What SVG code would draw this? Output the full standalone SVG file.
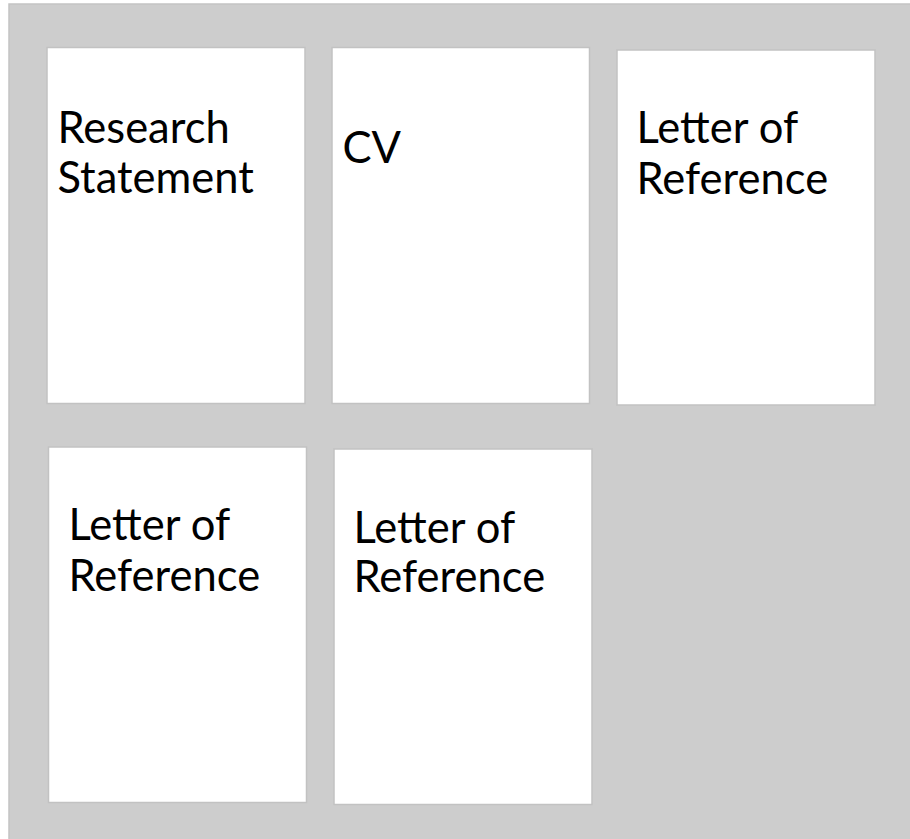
<svg xmlns="http://www.w3.org/2000/svg" width="910" height="839" viewBox="0 0 910 839">
<style>
.bg{fill:#cdcdcd;stroke:#c4c4c4;stroke-width:1.5}
.card{fill:#ffffff;stroke:#c2c2c2;stroke-width:1.5}
.t{font-family:Lato,"Liberation Sans",sans-serif;font-size:43.5px;font-weight:400;fill:#000}
</style>
<rect x="0" y="0" width="910" height="839" fill="#ffffff"/>
<rect class="bg" x="9" y="4" width="910" height="845"/>
<g id="research-statement">
<rect class="card" x="47" y="47.5" width="258" height="356"/>
<text class="t" x="57.5" y="143">Research</text>
<text class="t" x="57.5" y="193">Statement</text>
</g>
<g id="cv">
<rect class="card" x="332" y="47.5" width="257.5" height="356"/>
<text class="t" x="342.5" y="163">CV</text>
</g>
<g id="letter-1">
<rect class="card" x="617" y="50" width="258" height="355"/>
<text class="t" x="636.5" y="143">Letter of</text>
<text class="t" x="636.5" y="194">Reference</text>
</g>
<g id="letter-2">
<rect class="card" x="48.5" y="447" width="258" height="355.5"/>
<text class="t" x="68.5" y="540">Letter of</text>
<text class="t" x="68.5" y="591">Reference</text>
</g>
<g id="letter-3">
<rect class="card" x="334" y="449" width="258" height="355.5"/>
<text class="t" x="353.5" y="543">Letter of</text>
<text class="t" x="353.5" y="592">Reference</text>
</g>
<g id="connectors"></g>
</svg>
